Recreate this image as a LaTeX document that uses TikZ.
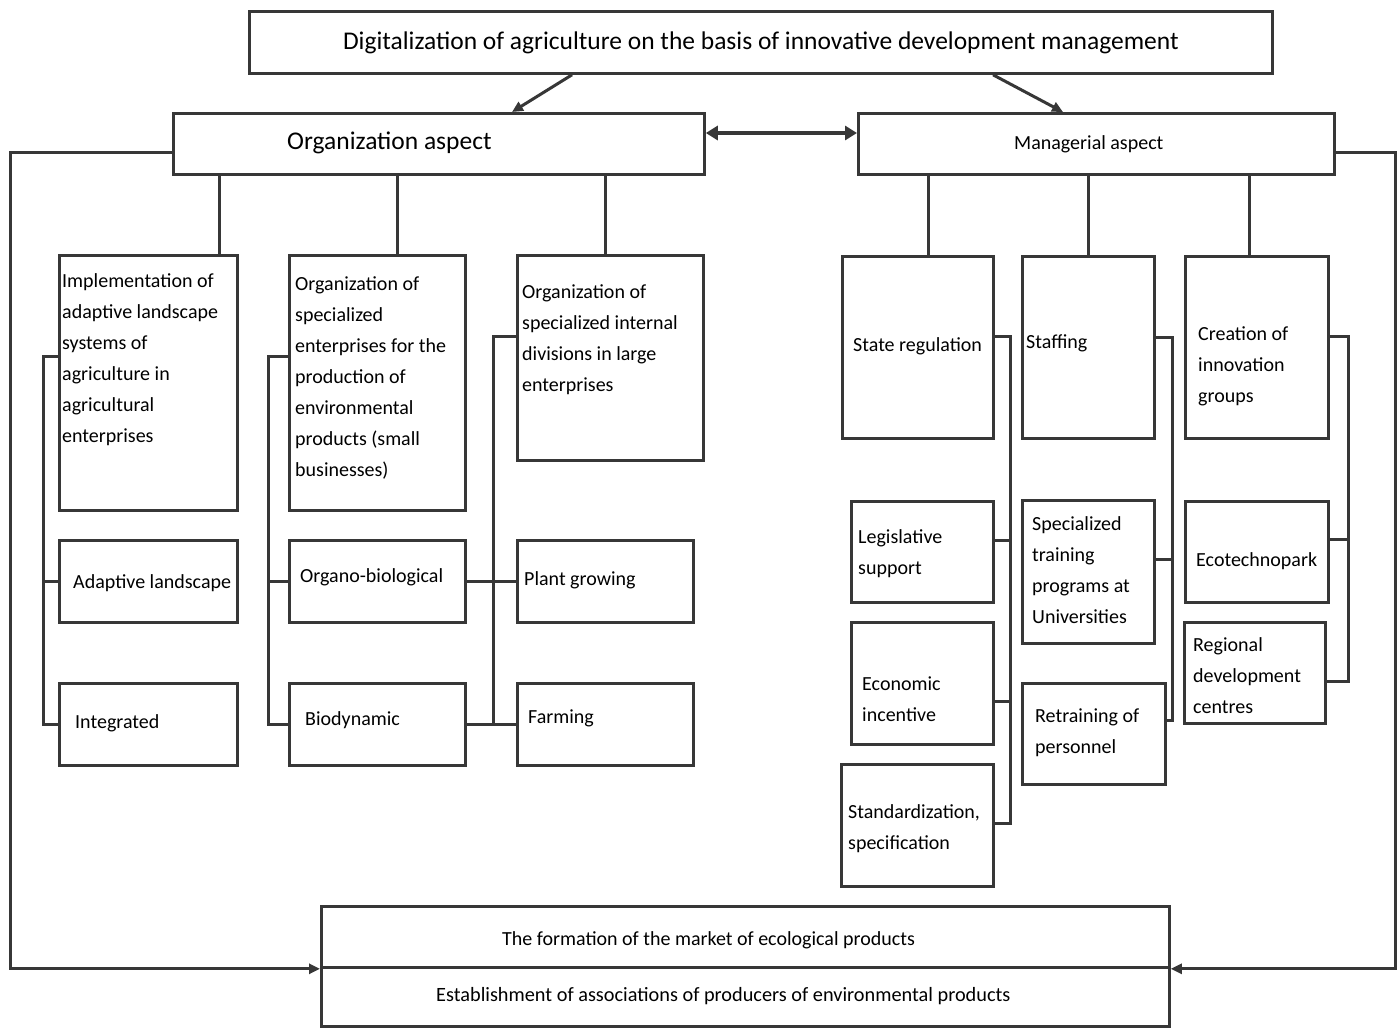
\documentclass[tikz,border=0pt]{standalone}
\usepackage{fontspec}
\setmainfont{Carlito}
\usetikzlibrary{arrows.meta}
\definecolor{linegray}{RGB}{55,55,55}

\begin{document}
\begin{tikzpicture}[x=1pt,y=-1pt,
    box/.style={draw=linegray, line width=2.8pt, anchor=north west, inner sep=0pt},
    txt/.style={anchor=west, align=left, inner sep=0pt, font=\fontsize{20}{31}\selectfont},
    link/.style={draw=linegray, line width=3pt},
    arr/.style={link, -{Triangle[length=11pt,width=10pt]}}]
    \useasboundingbox (0,0) rectangle (1400,1028);

    % top level
    \node[box, minimum width=1023pt, minimum height=62pt, font=\fontsize{25.5}{30}\selectfont]
        (title) at (248,10) {Digitalization of agriculture on the basis of innovative development management};
    \node[box, minimum width=531pt, minimum height=61pt] (org) at (172,112) {};
    \node[txt, font=\fontsize{25.5}{30}\selectfont] (org-t) at (287,143) {Organization aspect};
    \node[box, minimum width=476pt, minimum height=61pt] (mgr) at (857,112) {};
    \node[txt, font=\fontsize{20}{24}\selectfont] (mgr-t) at (1014,144) {Managerial aspect};

    % organization side
    \node[box, minimum width=178pt, minimum height=255pt] (impl) at (58,254) {};
    \node[box, minimum width=178pt, minimum height=82pt] (adapt) at (58,539) {};
    \node[box, minimum width=178pt, minimum height=82pt] (integ) at (58,682) {};
    \node[box, minimum width=176pt, minimum height=255pt] (spec) at (288,254) {};
    \node[box, minimum width=176pt, minimum height=82pt] (organo) at (288,539) {};
    \node[box, minimum width=176pt, minimum height=82pt] (biody) at (288,682) {};
    \node[box, minimum width=186pt, minimum height=205pt] (internal) at (516,254) {};
    \node[box, minimum width=176pt, minimum height=82pt] (plant) at (516,539) {};
    \node[box, minimum width=176pt, minimum height=82pt] (farm) at (516,682) {};

    \node[txt] (impl-t) at (62,360) {Implementation of\\adaptive landscape\\systems of\\agriculture in\\agricultural\\enterprises};
    \node[txt] (adapt-t) at (73,583) {Adaptive landscape};
    \node[txt] (integ-t) at (75,723) {Integrated};
    \node[txt] (spec-t) at (295,378) {Organization of\\specialized\\enterprises for the\\production of\\environmental\\products (small\\businesses)};
    \node[txt] (organo-t) at (300,577) {Organo-biological};
    \node[txt] (biody-t) at (305,720) {Biodynamic};
    \node[txt] (internal-t) at (522,340) {Organization of\\specialized internal\\divisions in large\\enterprises};
    \node[txt] (plant-t) at (524,580) {Plant growing};
    \node[txt] (farm-t) at (528,718) {Farming};

    % managerial side
    \node[box, minimum width=151pt, minimum height=182pt] (state) at (841,255) {};
    \node[box, minimum width=132pt, minimum height=182pt] (staff) at (1021,255) {};
    \node[box, minimum width=143pt, minimum height=182pt] (create) at (1184,255) {};
    \node[box, minimum width=142pt, minimum height=101pt] (legis) at (850,500) {};
    \node[box, minimum width=142pt, minimum height=122pt] (econ) at (850,621) {};
    \node[box, minimum width=152pt, minimum height=122pt] (stand) at (840,763) {};
    \node[box, minimum width=132pt, minimum height=143pt] (train) at (1021,499) {};
    \node[box, minimum width=143pt, minimum height=101pt] (retrain) at (1021,682) {};
    \node[box, minimum width=143pt, minimum height=101pt] (ecotech) at (1184,500) {};
    \node[box, minimum width=141pt, minimum height=101pt] (region) at (1183,621) {};

    \node[txt] (state-t) at (853,346) {State regulation};
    \node[txt] (staff-t) at (1026,343) {Staffing};
    \node[txt] (create-t) at (1198,366) {Creation of\\innovation\\groups};
    \node[txt] (legis-t) at (858,554) {Legislative\\support};
    \node[txt] (econ-t) at (862,699) {Economic\\incentive};
    \node[txt] (stand-t) at (848,829) {Standardization,\\specification};
    \node[txt] (train-t) at (1032,570) {Specialized\\training\\programs at\\Universities};
    \node[txt] (retrain-t) at (1035,733) {Retraining of\\personnel};
    \node[txt] (ecotech-t) at (1196,561) {Ecotechnopark};
    \node[txt] (region-t) at (1193,676) {Regional\\development\\centres};

    % bottom
    \node[box, minimum width=848pt, minimum height=61pt] (market) at (320,905) {};
    \node[box, minimum width=848pt, minimum height=59pt] (assoc) at (320,966) {};
    \node[txt, font=\fontsize{20}{24}\selectfont] (market-t) at (502,940) {The formation of the market of ecological products};
    \node[txt, font=\fontsize{20.3}{24}\selectfont] (assoc-t) at (436,996) {Establishment of associations of producers of environmental products};

    % connectors
    \draw[arr] (title.south -| 572,0) -- (org.north -| 512,0);
    \draw[arr] (title.south -| 993,0) -- (mgr.north -| 1063,0);
    \draw[link, line width=4.5pt, {Triangle[length=12pt,width=14pt]}-{Triangle[length=12pt,width=14pt]}]
        (org.east |- 0,133) -- (mgr.west |- 0,133);
    \draw[arr] (org.west |- 0,152) -- ++(-162,0) |- (market.south west);
    \draw[arr] (mgr.east |- 0,152) -- ++(60,0) |- (market.south east);

    \foreach \x/\a/\b in {219/org/impl, 397/org/spec, 605/org/internal,
                          928/mgr/state, 1088/mgr/staff, 1249/mgr/create}
        \draw[link] (\a.south -| \x,0) -- (\b.north -| \x,0);

    \draw[link] (impl.west |- 0,356) -- ++(-15,0) |- (integ.west);
    \draw[link] (adapt.west) -- ++(-15,0);
    \draw[link] (spec.west |- 0,356) -- ++(-20,0) |- (biody.west);
    \draw[link] (organo.west) -- ++(-20,0);
    \draw[link] (internal.west |- 0,336) -- ++(-23,0) |- (farm.west);
    \draw[link] (organo.east) -- (plant.west);
    \draw[link] (biody.east) -- (farm.west);

    \draw[link] (state.east |- 0,336) -- ++(16,0) |- (stand.east |- 0,823);
    \draw[link] (legis.east |- 0,540) -- ++(16,0);
    \draw[link] (econ.east |- 0,701) -- ++(16,0);
    \draw[link] (staff.east |- 0,337) -- ++(17,0) |- (retrain.east |- 0,720);
    \draw[link] (train.east |- 0,559) -- ++(17,0);
    \draw[link] (create.east |- 0,336) -- ++(19,0) |- (region.east |- 0,681);
    \draw[link] (ecotech.east |- 0,539) -- ++(19,0);
\end{tikzpicture}
\end{document}
